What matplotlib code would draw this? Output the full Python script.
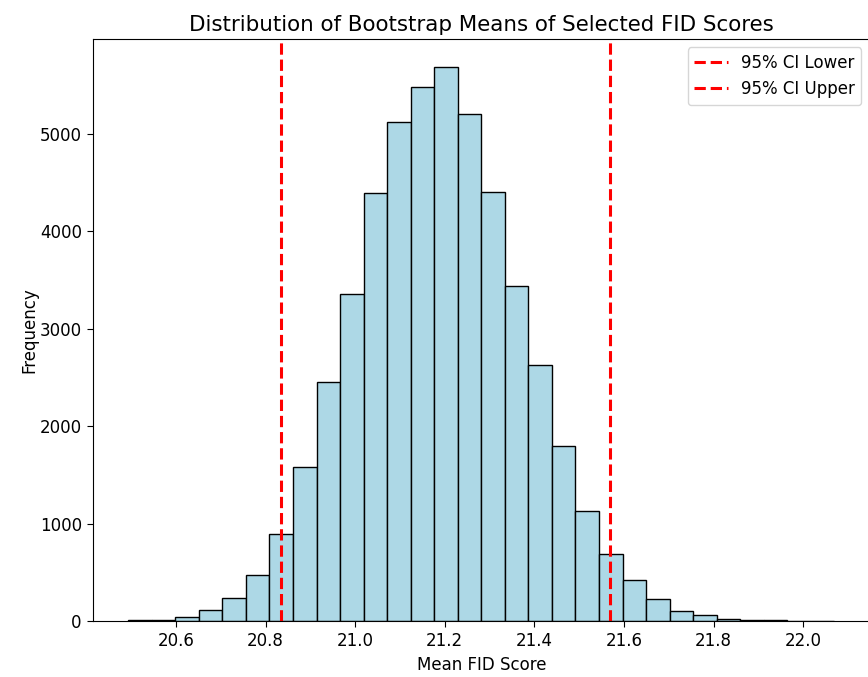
import numpy as np
import matplotlib
matplotlib.use('Agg')
import matplotlib.pyplot as plt

# Histogram of bootstrap means
bin_start = 20.493
bin_end = 22.07
counts = [10, 15, 40, 110, 240, 470, 890, 1580, 2450, 3360,
          4390, 5120, 5480, 5690, 5200, 4400, 3440, 2630, 1800, 1130,
          690, 420, 225, 100, 60, 25, 15, 8, 5, 2]
ci_lower = 20.835
ci_upper = 21.569

edges = np.linspace(bin_start, bin_end, len(counts) + 1)
centers = (edges[:-1] + edges[1:]) / 2

fig = plt.figure(figsize=(8.68, 6.77), dpi=100)
ax = fig.add_axes([0.107, 0.0827, 0.895, 0.8597])

ax.hist(centers, bins=edges, weights=counts, color='lightblue', edgecolor='black')
ax.axvline(ci_lower, color='red', linestyle='--', linewidth=2.2, label='95% CI Lower')
ax.axvline(ci_upper, color='red', linestyle='--', linewidth=2.2, label='95% CI Upper')

ax.set_title('Distribution of Bootstrap Means of Selected FID Scores', fontsize=15.4)
ax.set_xlabel('Mean FID Score', fontsize=12)
ax.set_ylabel('Frequency', fontsize=12, labelpad=1)
ax.tick_params(labelsize=12, length=4.5)
ax.legend(fontsize=12)

fig.savefig('out.png', dpi=100)
